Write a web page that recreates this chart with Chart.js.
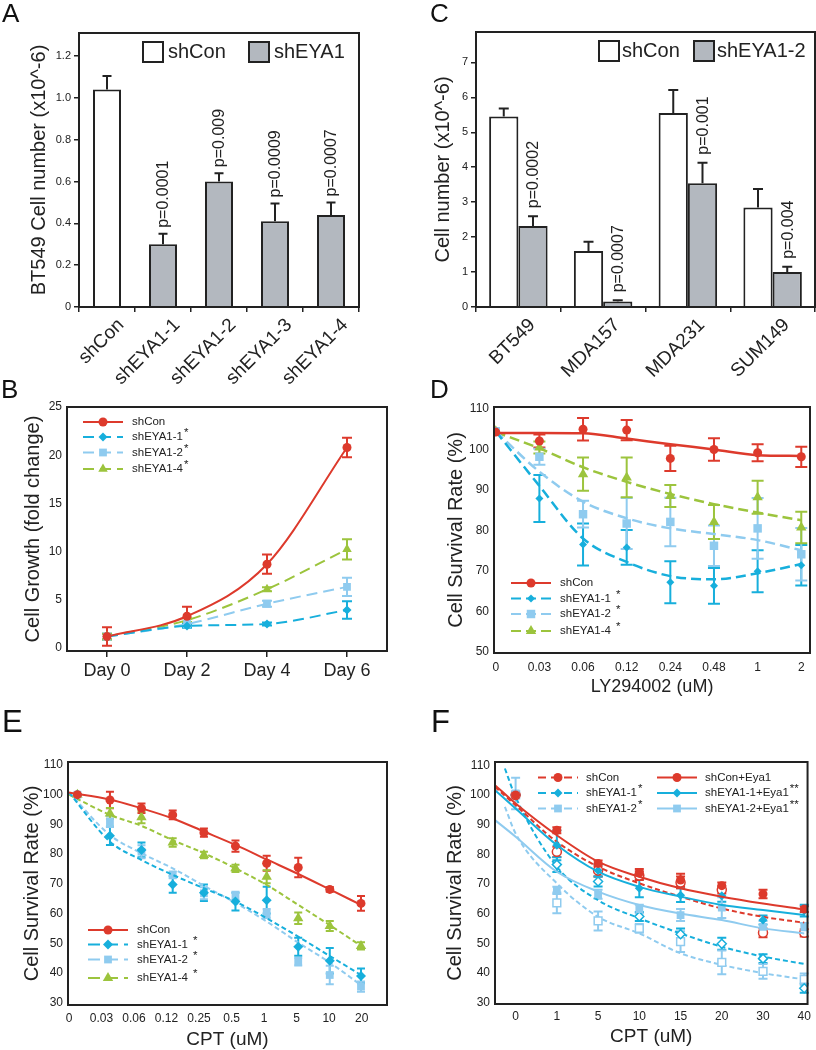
<!DOCTYPE html>
<html>
<head>
<meta charset="utf-8">
<script src="https://cdn.jsdelivr.net/npm/chart.js@4"></script>
<style>
  body { margin: 0; background: #fff; }
  #wrap { position: relative; width: 816px; height: 1050px; }
  canvas { position: absolute; }
</style>
</head>
<body>
<div id="wrap">
  <canvas id="cA" width="408" height="385" style="left:0;top:0"></canvas>
  <canvas id="cC" width="408" height="385" style="left:408px;top:0"></canvas>
  <canvas id="cB" width="408" height="325" style="left:0;top:375px"></canvas>
  <canvas id="cD" width="408" height="325" style="left:408px;top:375px"></canvas>
  <canvas id="cE" width="408" height="350" style="left:0;top:700px"></canvas>
  <canvas id="cF" width="408" height="350" style="left:408px;top:700px"></canvas>
</div>
<script>
// ---- A: BT549 knockdowns
const aCategories = ["shCon", "shEYA1-1", "shEYA1-2", "shEYA1-3", "shEYA1-4"];
const aValues = [1.04, 0.30, 0.60, 0.41, 0.44];
const aErrors = [0.065, 0.05, 0.04, 0.085, 0.06];
const aPValues = [null, "p=0.0001", "p=0.009", "p=0.0009", "p=0.0007"];
const aTicks = [0, 0.2, 0.4, 0.6, 0.8, 1.0, 1.2];
const aTickLabels = ["0", "0.2", "0.4", "0.6", "0.8", "1.0", "1.2"];

// ---- C: cell lines
const cCategories = ["BT549", "MDA157", "MDA231", "SUM149"];
const cShCon = [5.45, 1.60, 5.55, 2.85];
const cShConErr = [0.23, 0.27, 0.66, 0.53];
const cShEya = [2.32, 0.16, 3.54, 1.00];
const cShEyaErr = [0.28, 0.03, 0.59, 0.15];
const cPValues = ["p=0.0002", "p=0.0007", "p=0.001", "p=0.004"];
const cTicks = [0, 1, 2, 3, 4, 5, 6, 7];

// ---- B: growth
const bDays = ["Day 0", "Day 2", "Day 4", "Day 6"];
const bTicks = [0, 5, 10, 15, 20, 25];
const bShCon = [1.2, 3.3, 8.7, 20.8];
const bShConErr = [0.95, 1.0, 1.0, 1.0];
const bShEya1 = [1.2, 2.3, 2.5, 3.95];
const bShEya1Err = [0.3, 0.2, 0.15, 0.9];
const bShEya2 = [1.2, 2.5, 4.6, 6.35];
const bShEya2Err = [0.3, 0.2, 0.3, 0.95];
const bShEya4 = [1.2, 2.9, 6.1, 10.25];
const bShEya4Err = [0.3, 0.2, 0.2, 1.05];

// ---- D: LY294002
const dDoses = ["0", "0.03", "0.06", "0.12", "0.24", "0.48", "1", "2"];
const dX = [0, 1, 2, 3, 4, 5, 6, 7];
const dTicks = [50, 60, 70, 80, 90, 100, 110];
const dShCon = [104.3, 102.1, 105.0, 104.8, 97.8, 100.0, 99.2, 98.2];
const dShConErr = [0, 1.6, 2.8, 2.5, 3.1, 2.8, 2.1, 2.5];
const dShConFit = [104.1, 104.1, 104.0, 102.7, 101.3, 100.0, 98.6, 98.4];
const dShEya1 = [104.5, 87.9, 76.5, 75.8, 67.2, 66.3, 69.9, 71.4];
const dShEya1Err = [0, 5.8, 5.2, 4.3, 5.2, 4.4, 5.2, 5.0];
const dShEya1Fit = [104.5, 91.0, 78.0, 72.2, 68.7, 67.9, 69.4, 71.7];
const dShEya2 = [104.5, 98.2, 84.0, 81.7, 82.1, 76.2, 80.5, 74.1];
const dShEya2Err = [0, 2.0, 3.3, 6.3, 6.0, 5.0, 7.5, 6.5];
const dShEya2Fit = [104.5, 94.5, 87.1, 83.0, 80.5, 79.1, 77.6, 75.1];
const dShEya4 = [104.5, 100.5, 93.9, 93.1, 88.5, 82.1, 88.2, 80.7];
const dShEya4Err = [0, 1.5, 4.1, 4.9, 2.7, 4.2, 4.1, 3.9];
const dShEya4Fit = [104.3, 100.3, 95.6, 92.0, 89.0, 86.5, 84.4, 82.5];

// ---- E: CPT
const eDoses = ["0", "0.03", "0.06", "0.12", "0.25", "0.5", "1", "5", "10", "20"];
const ePointX = [0.26, 1.26, 2.23, 3.19, 4.15, 5.12, 6.08, 7.05, 8.02, 8.98];
const eFitX = [0, 1.26, 2.23, 3.19, 4.15, 5.12, 6.08, 7.05, 8.02, 8.98];
const eTicks = [30, 40, 50, 60, 70, 80, 90, 100, 110];
const eShCon = [100, 98.2, 95.4, 93.2, 87.2, 82.7, 76.9, 75.5, 68.1, 63.4];
const eShConErr = [0, 2.8, 1.6, 1.5, 1.4, 1.9, 2.5, 3.3, 0.8, 2.5];
const eShConFit = [100.7, 98.4, 95.4, 92.0, 87.6, 83.1, 78.2, 73.3, 68.1, 62.9];
const eShEya1 = [100, 86.2, 81.4, 69.8, 67.0, 64.0, 64.5, 48.8, 44.1, 39.0];
const eShEya1Err = [0, 3.1, 2.5, 2.8, 2.8, 3.0, 4.5, 3.0, 4.3, 2.5];
const eShEya1Fit = [100.7, 84.2, 78.0, 73.0, 68.5, 64.0, 58.4, 52.2, 45.7, 39.3];
const eShEya2 = [100, 90.9, 80.8, 73.0, 66.8, 65.9, 60.0, 43.8, 39.3, 35.4];
const eShEya2Err = [0, 1.8, 2.2, 1.1, 2.0, 1.4, 1.5, 1.3, 3.1, 1.7];
const eShEya2Fit = [100.7, 86.4, 80.3, 75.2, 69.3, 63.6, 57.3, 50.2, 43.5, 35.9];
const eShEya4 = [100, 93.7, 92.4, 83.9, 79.7, 75.2, 72.4, 58.4, 55.8, 49.1];
const eShEya4Err = [0, 1.8, 2.0, 1.4, 1.1, 1.2, 2.2, 1.9, 1.7, 1.2];
const eShEya4Fit = [100.0, 93.2, 89.5, 84.7, 80.3, 75.2, 69.6, 62.9, 56.1, 49.1];

// ---- F: CPT with Eya1 rescue
const fDoses = ["0", "1", "5", "10", "15", "20", "30", "40"];
const fX = [0, 1, 2, 3, 4, 5, 6, 7];
const fFitX = [-0.5, 0, 1, 2, 3, 4, 5, 6, 7];
const fFitXShort = [-0.26, 0, 1, 2, 3, 4, 5, 6, 7];
const fTicks = [30, 40, 50, 60, 70, 80, 90, 100, 110];
const fShCon = [100, 80.8, 74.5, 72.8, 70.5, 68.0, 53.5, 53.5];
const fShConErr = [0, 1.7, 2.0, 1.5, 2.0, 1.2, 1.5, 1.2];
const fShConFit = [102.7, 96.5, 84.2, 75.8, 70.2, 65.7, 61.7, 58.9, 56.9];
const fShConEya = [100, 88.1, 76.9, 73.7, 71.3, 69.4, 66.6, 61.5];
const fShConEyaErr = [0, 1.0, 1.0, 1.3, 2.1, 1.1, 1.4, 1.0];
const fShConEyaFit = [103.3, 97.1, 86.4, 77.5, 72.4, 68.5, 65.7, 63.4, 61.4];
const fShEya1 = [100, 76.5, 70.8, 59.0, 53.0, 49.8, 44.8, 34.8];
const fShEya1Err = [0, 2.5, 1.7, 1.5, 2.0, 2.0, 1.5, 1.5];
const fShEya1Fit = [108.9, 99.3, 75.8, 64.5, 58.4, 53.3, 48.8, 45.5, 43.0];
const fShEya1Eya = [100, 83.0, 74.5, 68.5, 66.2, 66.0, 57.8, 61.0];
const fShEya1EyaErr = [0, 5.0, 2.0, 3.0, 2.3, 2.0, 1.5, 2.0];
const fShEya1EyaFit = [101.6, 95.4, 83.1, 74.1, 69.0, 65.7, 62.9, 61.2, 59.5];
const fShEya2 = [100, 63.6, 57.5, 55.0, 50.5, 43.5, 40.5, 37.8];
const fShEya2Err = [0, 3.5, 3.2, 1.5, 3.5, 4.0, 2.5, 2.0];
const fShEya2Fit = [96.0, 87.0, 70.2, 58.9, 53.3, 46.6, 42.7, 39.9, 37.8];
const fShEya2Eya = [100.5, 67.8, 66.5, 61.5, 59.5, 62.0, 55.5, 55.3];
const fShEya2EyaErr = [5.3, 1.2, 1.5, 1.5, 2.0, 3.5, 2.0, 1.5];
const fShEya2EyaFit = [91.5, 85.9, 74.1, 67.4, 62.9, 60.0, 57.8, 55.0, 53.3];

const FONT = "'Liberation Sans', Arial, Helvetica, sans-serif";
const INK = "#222222";
const RED = "#dd3a2c";
const BLUE = "#17afdc";
const LBLUE = "#8fcbef";
const GREEN = "#9cc43d";
const GRAY = "#b3b8bf";

Chart.defaults.font.family = FONT;
Chart.defaults.color = INK;

// error bars, frame, p-values, legends and panel letters
function drawErrors(chart, o, upOnly) {
  const ctx = chart.ctx;
  const y = chart.scales.y;
  chart.data.datasets.forEach((ds, di) => {
    if (!ds.errors) return;
    const meta = chart.getDatasetMeta(di);
    ctx.save();
    ctx.strokeStyle = ds.errorColor || ds.borderColor;
    ctx.lineWidth = o.errWidth || 2;
    ctx.setLineDash([]);
    meta.data.forEach((el, i) => {
      const raw = ds.data[i];
      const v = raw !== null && typeof raw === "object" ? raw.y : raw;
      const e = ds.errors[i];
      if (v == null || !e) return;
      const top = y.getPixelForValue(v + e);
      const bot = y.getPixelForValue(upOnly ? v : v - e);
      const c = o.cap || 5;
      ctx.beginPath();
      ctx.moveTo(el.x, top); ctx.lineTo(el.x, bot);
      ctx.moveTo(el.x - c, top); ctx.lineTo(el.x + c, top);
      if (!upOnly) { ctx.moveTo(el.x - c, bot); ctx.lineTo(el.x + c, bot); }
      ctx.stroke();
    });
    ctx.restore();
  });
}

function drawLegend(chart, L) {
  const ctx = chart.ctx;
  L.items.forEach(it => {
    ctx.save();
    let tx;
    if (it.box) {
      ctx.fillStyle = it.box;
      ctx.strokeStyle = INK;
      ctx.lineWidth = 2;
      ctx.fillRect(it.x, it.y - L.box / 2, L.box, L.box);
      ctx.strokeRect(it.x, it.y - L.box / 2, L.box, L.box);
      tx = it.x + L.box + L.gap;
    } else {
      const s = it.s;
      ctx.strokeStyle = s.color;
      ctx.lineWidth = 2;
      ctx.setLineDash(s.dash ? (L.dash || s.dash) : []);
      ctx.beginPath();
      ctx.moveTo(it.x, it.y); ctx.lineTo(it.x + L.len, it.y);
      ctx.stroke();
      ctx.setLineDash([]);
      ctx.fillStyle = s.color;
      ctx.strokeStyle = s.color;
      Chart.helpers.drawPoint(ctx, { pointStyle: s.style, radius: s.radius, rotation: 0, borderWidth: 0 }, it.x + L.len / 2, it.y);
      tx = it.x + L.len + L.gap;
    }
    ctx.fillStyle = INK;
    ctx.font = L.size + "px " + FONT;
    ctx.textBaseline = "middle";
    ctx.textAlign = "left";
    const text = it.box ? it.text : it.s.name;
    ctx.fillText(text, tx, it.y);
    const star = it.box ? null : it.s.star;
    if (star) {
      const w = ctx.measureText(text).width;
      ctx.fillText(star, tx + w + (L.starGap || 0), it.y - 4);
    }
    ctx.restore();
  });
}

const decor = {
  id: "decor",
  beforeDatasetsDraw(chart, args, o) {
    if (!o.barErrors) drawErrors(chart, o, false);
  },
  afterDatasetsDraw(chart, args, o) {
    const ctx = chart.ctx;
    const a = chart.chartArea;
    if (o.barErrors) drawErrors(chart, o, true);
    (o.pLabels || []).forEach(p => {
      const ds = chart.data.datasets[p.ds];
      const el = chart.getDatasetMeta(p.ds).data[p.i];
      const yTop = chart.scales.y.getPixelForValue(ds.data[p.i] + ds.errors[p.i]) - o.pGap;
      ctx.save();
      ctx.translate(el.x, yTop);
      ctx.rotate(-Math.PI / 2);
      ctx.font = "16px " + FONT;
      ctx.fillStyle = INK;
      ctx.textAlign = "left";
      ctx.textBaseline = "middle";
      ctx.fillText(p.text, 0, 1);
      ctx.restore();
    });
    ctx.save();
    ctx.strokeStyle = INK;
    ctx.lineWidth = 2;
    ctx.setLineDash([]);
    ctx.strokeRect(a.left, a.top, a.right - a.left, a.bottom - a.top);
    ctx.restore();
    if (o.legend) drawLegend(chart, o.legend);
    if (o.letter) {
      ctx.save();
      ctx.font = o.letter.size + "px " + FONT;
      ctx.fillStyle = "#111";
      ctx.textBaseline = "alphabetic";
      ctx.fillText(o.letter.text, o.letter.x, o.letter.y);
      ctx.restore();
    }
  }
};
Chart.register(decor);

function valueAxis(o) {
  return {
    min: o.min,
    max: o.max,
    afterBuildTicks: s => { s.ticks = o.ticks.map(v => ({ value: v })); },
    ticks: { font: { size: o.size }, color: INK, padding: o.tickLen ? 3 : 5, callback: (v, i) => o.labels[i] },
    grid: { drawOnChartArea: false, drawTicks: !!o.tickLen, tickLength: o.tickLen || 0, color: INK, lineWidth: 1.5 },
    border: { display: false },
    title: { display: true, text: o.title, color: INK, font: { size: o.titleSize }, padding: { top: o.titleCenter - o.titleSize * 0.6, bottom: 0 } },
    afterFit: s => { s.width = o.width; }
  };
}

function catAxis(o) {
  return {
    offset: true,
    grid: { offset: o.gridOffset, drawOnChartArea: false, drawTicks: true, tickLength: o.tickLen, color: INK, lineWidth: 1.5 },
    border: { display: false },
    ticks: { font: { size: o.size }, color: INK, padding: o.pad, maxRotation: o.rot, minRotation: o.rot, autoSkip: false, labelOffset: o.labelOffset || 0 },
    afterFit: s => { s.height = o.height; }
  };
}

function doseAxis(o) {
  return {
    type: "linear",
    min: o.min,
    max: o.max,
    afterBuildTicks: s => { s.ticks = o.labels.map((_, i) => ({ value: i })); },
    ticks: { font: { size: o.size }, color: INK, padding: o.pad, maxRotation: 0, autoSkip: false, callback: (v, i) => o.labels[i] },
    grid: { drawOnChartArea: false, drawTicks: false, color: INK },
    border: { display: false },
    title: { display: true, text: o.title, color: INK, font: { size: o.titleSize }, padding: { top: 0, bottom: o.titlePad } },
    afterFit: s => { s.height = o.height; }
  };
}

function options(padding, scales, decorOpts) {
  return {
    responsive: false,
    animation: false,
    devicePixelRatio: 1,
    layout: { padding },
    plugins: { legend: { display: false }, tooltip: { enabled: false }, decor: decorOpts },
    scales
  };
}

function pts(xs, ys) { return ys.map((y, i) => ({ x: xs[i], y })); }

function fitSet(xs, ys, s, width) {
  return {
    data: pts(xs, ys), borderColor: s.color, borderWidth: width || 2,
    borderDash: s.dash || [], pointRadius: 0, cubicInterpolationMode: "monotone", fill: false
  };
}

function markSet(xs, ys, errs, s, hollow) {
  return {
    data: pts(xs, ys), errors: errs, showLine: false,
    pointStyle: s.style, pointRadius: s.radius,
    backgroundColor: hollow ? "#ffffff" : s.color, borderColor: s.color, borderWidth: hollow ? 1.5 : 0
  };
}

// ---------- A
new Chart(document.getElementById("cA"), {
  type: "bar",
  data: {
    labels: aCategories,
    datasets: [{
      data: aValues, errors: aErrors, errorColor: INK,
      backgroundColor: aCategories.map((c, i) => i === 0 ? "#ffffff" : GRAY),
      borderColor: INK, borderWidth: 2, barPercentage: 0.5, categoryPercentage: 1
    }]
  },
  options: options(
    { left: 0, top: 33, right: 49, bottom: 0 },
    {
      x: catAxis({ gridOffset: true, tickLen: 5, size: 19, pad: 2, rot: 45, height: 78, labelOffset: 14 }),
      y: valueAxis({ min: 0, max: 1.31, ticks: aTicks, labels: aTickLabels, size: 11, tickLen: 5,
        title: "BT549 Cell number (x10^-6)", titleSize: 20, titleCenter: 39, width: 79 })
    },
    {
      barErrors: true, cap: 4.5, pGap: 6,
      pLabels: aPValues.map((t, i) => t && { ds: 0, i, text: t }).filter(Boolean),
      letter: { text: "A", x: 2, y: 22, size: 26 },
      legend: { size: 20, box: 20, gap: 5, items: [
        { box: "#ffffff", text: "shCon", x: 143, y: 52 },
        { box: GRAY, text: "shEYA1", x: 249, y: 52 }
      ] }
    })
});

// ---------- C
new Chart(document.getElementById("cC"), {
  type: "bar",
  data: {
    labels: cCategories,
    datasets: [
      { data: cShCon, errors: cShConErr, errorColor: INK, backgroundColor: "#ffffff", borderColor: INK, borderWidth: 2, barPercentage: 1, categoryPercentage: 0.69 },
      { data: cShEya, errors: cShEyaErr, errorColor: INK, backgroundColor: GRAY, borderColor: INK, borderWidth: 2, barPercentage: 1, categoryPercentage: 0.69 }
    ]
  },
  options: options(
    { left: 0, top: 32, right: 1, bottom: 0 },
    {
      x: catAxis({ gridOffset: true, tickLen: 5, size: 19, pad: 2, rot: 45, height: 78, labelOffset: 14 }),
      y: valueAxis({ min: 0, max: 7.87, ticks: cTicks, labels: cTicks.map(String), size: 11, tickLen: 5,
        title: "Cell number (x10^-6)", titleSize: 20, titleCenter: 35, width: 68 })
    },
    {
      barErrors: true, cap: 5, pGap: 8,
      pLabels: cPValues.map((t, i) => ({ ds: 1, i, text: t })),
      letter: { text: "C", x: 22, y: 22, size: 26 },
      legend: { size: 20, box: 20, gap: 3, items: [
        { box: "#ffffff", text: "shCon", x: 191, y: 51 },
        { box: GRAY, text: "shEYA1-2", x: 286, y: 51 }
      ] }
    })
});

// ---------- B
const bSeries = [
  { name: "shCon", color: RED, style: "circle", radius: 4.5, dash: null, star: "" },
  { name: "shEYA1-1", color: BLUE, style: "rectRot", radius: 4.5, dash: [11, 6], star: "*" },
  { name: "shEYA1-2", color: LBLUE, style: "rect", radius: 5.5, dash: [11, 6], star: "*" },
  { name: "shEYA1-4", color: GREEN, style: "triangle", radius: 5.5, dash: [11, 6], star: "*" }
];
function bSet(values, errs, s) {
  return {
    data: values, errors: errs, borderColor: s.color, backgroundColor: s.color, borderWidth: 2,
    borderDash: s.dash || [], pointStyle: s.style, pointRadius: s.radius, pointBorderWidth: 0,
    cubicInterpolationMode: "monotone", fill: false
  };
}
new Chart(document.getElementById("cB"), {
  type: "line",
  data: {
    labels: bDays,
    datasets: [
      bSet(bShCon, bShConErr, bSeries[0]),
      bSet(bShEya1, bShEya1Err, bSeries[1]),
      bSet(bShEya2, bShEya2Err, bSeries[2]),
      bSet(bShEya4, bShEya4Err, bSeries[3])
    ]
  },
  options: options(
    { left: 0, top: 32, right: 21, bottom: 0 },
    {
      x: catAxis({ gridOffset: false, tickLen: 6, size: 18, pad: 3, rot: 0, height: 49 }),
      y: valueAxis({ min: -0.3, max: 25, ticks: bTicks, labels: bTicks.map(String), size: 12,
        title: "Cell Growth (fold change)", titleSize: 20, titleCenter: 33, width: 67 })
    },
    {
      cap: 5,
      letter: { text: "B", x: 1, y: 23, size: 26 },
      legend: { size: 11.5, len: 40, gap: 9, starGap: 1, items: [
        { s: bSeries[0], x: 83, y: 47 },
        { s: bSeries[1], x: 83, y: 62 },
        { s: bSeries[2], x: 83, y: 77.5 },
        { s: bSeries[3], x: 83, y: 94 }
      ] }
    })
});

// ---------- D
const dSeries = [
  { name: "shCon", color: RED, style: "circle", radius: 4.5, dash: null, star: "" },
  { name: "shEYA1-1", color: BLUE, style: "rectRot", radius: 4, dash: [10, 5], star: "*" },
  { name: "shEYA1-2", color: LBLUE, style: "rect", radius: 6, dash: [10, 5], star: "*" },
  { name: "shEYA1-4", color: GREEN, style: "triangle", radius: 6, dash: [10, 5], star: "*" }
];
new Chart(document.getElementById("cD"), {
  type: "line",
  data: {
    datasets: [
      markSet(dX, dShCon, dShConErr, dSeries[0]),
      fitSet(dX, dShConFit, dSeries[0], 2.5),
      markSet(dX, dShEya1, dShEya1Err, dSeries[1]),
      fitSet(dX, dShEya1Fit, dSeries[1], 2.5),
      markSet(dX, dShEya2, dShEya2Err, dSeries[2]),
      fitSet(dX, dShEya2Fit, dSeries[2], 2.5),
      markSet(dX, dShEya4, dShEya4Err, dSeries[3]),
      fitSet(dX, dShEya4Fit, dSeries[3], 2.5)
    ]
  },
  options: options(
    { left: 0, top: 32, right: 6, bottom: 0 },
    {
      x: doseAxis({ min: -0.04, max: 7.2, labels: dDoses, size: 12, pad: 7, height: 47,
        title: "LY294002 (uM)", titleSize: 18, titlePad: 2.5 }),
      y: valueAxis({ min: 49.7, max: 110.5, ticks: dTicks, labels: dTicks.map(String), size: 12,
        title: "Cell Survival Rate (%)", titleSize: 20, titleCenter: 48, width: 86 })
    },
    {
      cap: 6,
      letter: { text: "D", x: 22, y: 23, size: 26 },
      legend: { size: 11.5, len: 40, gap: 9, starGap: 5, items: [
        { s: dSeries[0], x: 103, y: 208 },
        { s: dSeries[1], x: 103, y: 223.5 },
        { s: dSeries[2], x: 103, y: 239 },
        { s: dSeries[3], x: 103, y: 256 }
      ] }
    })
});

// ---------- E
const eSeries = [
  { name: "shCon", color: RED, style: "circle", radius: 4.5, dash: null, star: "" },
  { name: "shEYA1-1", color: BLUE, style: "rectRot", radius: 5, dash: [5, 3], star: "*" },
  { name: "shEYA1-2", color: LBLUE, style: "rect", radius: 5.5, dash: [5, 3], star: "*" },
  { name: "shEYA1-4", color: GREEN, style: "triangle", radius: 6, dash: [5, 3], star: "*" }
];
new Chart(document.getElementById("cE"), {
  type: "line",
  data: {
    datasets: [
      markSet(ePointX, eShCon, eShConErr, eSeries[0]),
      fitSet(eFitX, eShConFit, eSeries[0]),
      markSet(ePointX, eShEya1, eShEya1Err, eSeries[1]),
      fitSet(eFitX, eShEya1Fit, eSeries[1]),
      markSet(ePointX, eShEya2, eShEya2Err, eSeries[2]),
      fitSet(eFitX, eShEya2Fit, eSeries[2]),
      markSet(ePointX, eShEya4, eShEya4Err, eSeries[3]),
      fitSet(eFitX, eShEya4Fit, eSeries[3])
    ]
  },
  options: options(
    { left: 0, top: 62, right: 21, bottom: 0 },
    {
      x: doseAxis({ min: -0.03, max: 9.78, labels: eDoses, size: 12, pad: 6, height: 45,
        title: "CPT (uM)", titleSize: 19, titlePad: -1 }),
      y: valueAxis({ min: 29.2, max: 111, ticks: eTicks, labels: eTicks.map(String), size: 12,
        title: "Cell Survival Rate (%)", titleSize: 20, titleCenter: 32, width: 68 })
    },
    {
      cap: 4,
      letter: { text: "E", x: 2, y: 32, size: 31 },
      legend: { size: 11.5, len: 40, gap: 9, starGap: 5, dash: [12, 6], items: [
        { s: eSeries[0], x: 88, y: 230 },
        { s: eSeries[1], x: 88, y: 244.5 },
        { s: eSeries[2], x: 88, y: 259.5 },
        { s: eSeries[3], x: 88, y: 278 }
      ] }
    })
});

// ---------- F
const fSeries = [
  { name: "shCon", color: RED, style: "circle", radius: 4.5, dash: [5, 3], star: "" },
  { name: "shEYA1-1", color: BLUE, style: "rectRot", radius: 4.5, dash: [5, 3], star: "*" },
  { name: "shEYA1-2", color: LBLUE, style: "rect", radius: 5.5, dash: [5, 3], star: "*" },
  { name: "shCon+Eya1", color: RED, style: "circle", radius: 4.5, dash: null, star: "" },
  { name: "shEYA1-1+Eya1", color: BLUE, style: "rectRot", radius: 4.5, dash: null, star: "**" },
  { name: "shEYA1-2+Eya1", color: LBLUE, style: "rect", radius: 5.5, dash: null, star: "**" }
];
new Chart(document.getElementById("cF"), {
  type: "line",
  data: {
    datasets: [
      markSet(fX, fShConEya, fShConEyaErr, fSeries[3]),
      fitSet(fFitX, fShConEyaFit, fSeries[3]),
      markSet(fX, fShEya1Eya, fShEya1EyaErr, fSeries[4]),
      fitSet(fFitX, fShEya1EyaFit, fSeries[4]),
      markSet(fX, fShEya2Eya, fShEya2EyaErr, fSeries[5]),
      fitSet(fFitX, fShEya2EyaFit, fSeries[5]),
      markSet(fX, fShCon, fShConErr, fSeries[0], true),
      fitSet(fFitX, fShConFit, fSeries[0]),
      markSet(fX, fShEya1, fShEya1Err, fSeries[1], true),
      fitSet(fFitXShort, fShEya1Fit, fSeries[1]),
      markSet(fX, fShEya2, fShEya2Err, fSeries[2], true),
      fitSet(fFitXShort, fShEya2Fit, fSeries[2])
    ]
  },
  options: options(
    { left: 0, top: 62, right: 6, bottom: 0 },
    {
      x: doseAxis({ min: -0.5, max: 7.08, labels: fDoses, size: 12, pad: 5, height: 46,
        title: "CPT (uM)", titleSize: 19, titlePad: 2 }),
      y: valueAxis({ min: 29.5, max: 111.1, ticks: fTicks, labels: fTicks.map(String), size: 12,
        title: "Cell Survival Rate (%)", titleSize: 20, titleCenter: 47, width: 87 })
    },
    {
      cap: 4.5,
      letter: { text: "F", x: 23, y: 32, size: 31 },
      legend: { size: 11.5, len: 40, gap: 8, starGap: 1, dash: [8, 5], items: [
        { s: fSeries[0], x: 130, y: 77.5 },
        { s: fSeries[1], x: 130, y: 93 },
        { s: fSeries[2], x: 130, y: 108.5 },
        { s: fSeries[3], x: 249, y: 77.5 },
        { s: fSeries[4], x: 249, y: 93 },
        { s: fSeries[5], x: 249, y: 108.5 }
      ] }
    })
});
</script>
</body>
</html>
